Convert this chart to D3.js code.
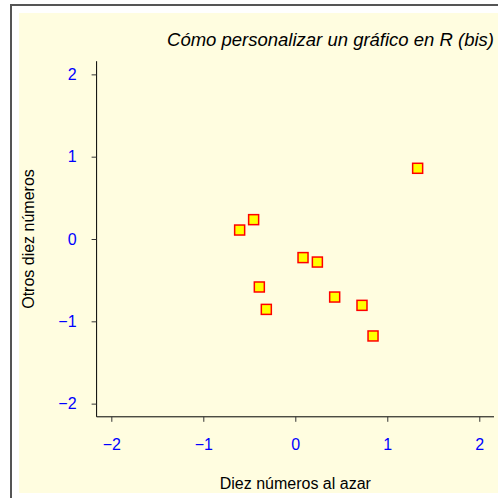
<!DOCTYPE html>
<html><head><meta charset="utf-8">
<script src="https://cdn.jsdelivr.net/npm/d3@7"></script>
<style>body{margin:0;background:#fff}svg{display:block}text{font-family:"Liberation Sans",Arial,sans-serif}</style>
</head><body>
<svg id="c" width="498" height="498"></svg>
<script>
const xVals = [1.330, -0.453, -0.605, 0.084, 0.240, -0.391, -0.315, 0.428, 0.725, 0.845];
const yVals = [0.859, 0.235, 0.109, -0.226, -0.280, -0.583, -0.855, -0.705, -0.806, -1.178];
const xTicks = [-2, -1, 0, 1, 2];
const yTicks = [-2, -1, 0, 1, 2];
const title = "Cómo personalizar un gráfico en R (bis)";
const xTitle = "Diez números al azar";
const yTitle = "Otros diez números";

const svg = d3.select("#c");
// outer frame
svg.append("rect").attr("x",11).attr("y",5).attr("width",500).attr("height",500)
  .attr("fill","#fff").attr("stroke","#555").attr("stroke-width",2);
svg.append("rect").attr("x",19).attr("y",13).attr("width",479).attr("height",480)
  .attr("fill","#FFFDE0");

const L=96.6, R=494, T=61.2, B=416.8;
const x = d3.scaleLinear().domain([-2.16,2.16]).range([L,R]);
const y = d3.scaleLinear().domain([-2.16,2.16]).range([B,T]);

// L-box
svg.append("path").attr("d",`M${L},${T}V${B}H${R}`).attr("fill","none").attr("stroke","#000").attr("stroke-width",1);

const fmt = d => d<0 ? "\u2212"+Math.abs(d) : String(d);
const xa = svg.append("g").attr("transform",`translate(0,${B})`)
  .call(d3.axisBottom(x).tickValues(xTicks).tickFormat(fmt).tickSize(5).tickPadding(17));
const ya = svg.append("g").attr("transform",`translate(${L},0)`)
  .call(d3.axisLeft(y).tickValues(yTicks).tickFormat(fmt).tickSize(5).tickPadding(15));
[xa,ya].forEach(a=>{
  a.select(".domain").remove();
  a.selectAll(".tick line").attr("stroke","#333");
  a.selectAll("text").attr("fill","#0000FF").attr("font-size",16).attr("font-family","Liberation Sans, Arial, sans-serif");
});

svg.append("text").attr("x",494).attr("y",45.5).attr("text-anchor","end")
  .attr("font-size",18.5).attr("font-style","italic").attr("fill","#000").text(title);
svg.append("text").attr("x",(L+R)/2).attr("y",489).attr("text-anchor","middle")
  .attr("font-size",16).attr("fill","#000").text(xTitle);
svg.append("text").attr("transform",`translate(34,${(T+B)/2}) rotate(-90)`).attr("text-anchor","middle")
  .attr("font-size",16).attr("fill","#000").text(yTitle);

const pts = xVals.map((v,i)=>({x:v,y:yVals[i]}));
svg.append("g").selectAll("rect").data(pts).join("rect")
  .attr("x",d=>x(d.x)-5).attr("y",d=>y(d.y)-5).attr("width",10).attr("height",10)
  .attr("fill","#FFFF00").attr("stroke","#FF0000").attr("stroke-width",1.5);
</script>
</body></html>
